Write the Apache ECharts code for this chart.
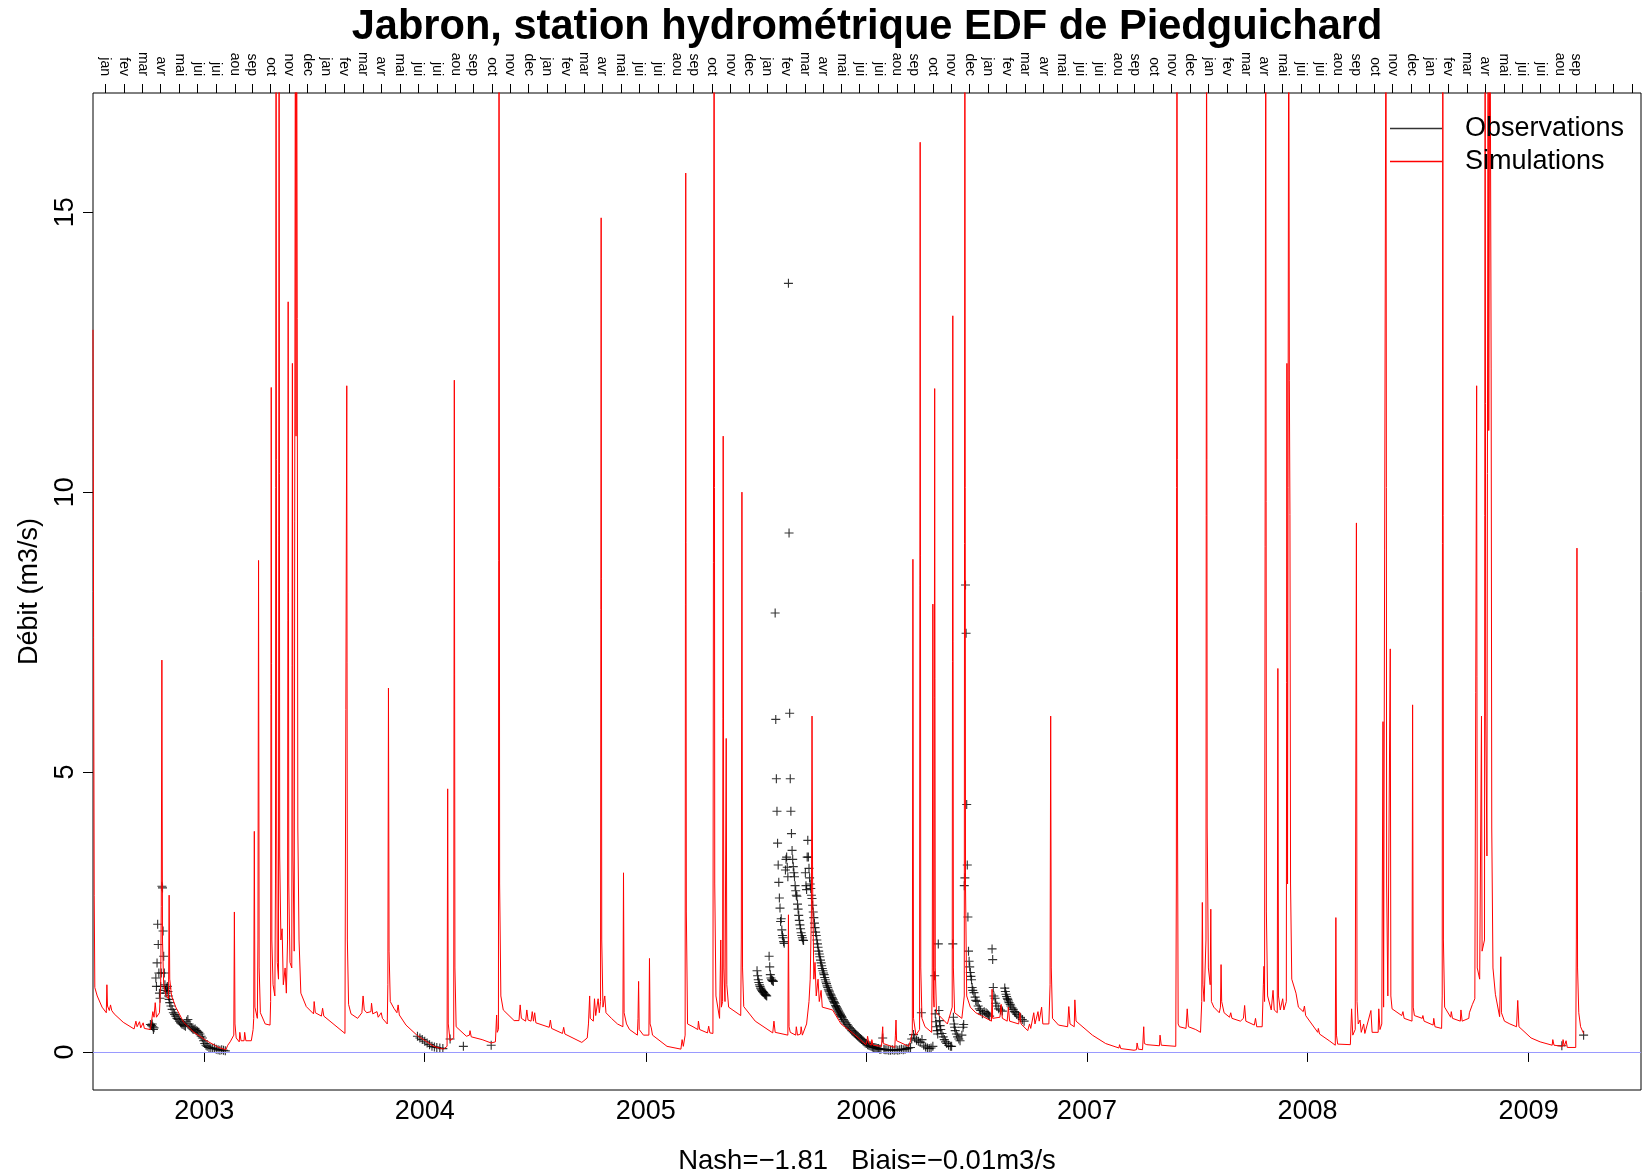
<!DOCTYPE html>
<html>
<head>
<meta charset="utf-8">
<title>Jabron - Piedguichard</title>
<script src="https://cdn.jsdelivr.net/npm/echarts@6/dist/echarts.min.js"></script>
<style>
  html, body { margin: 0; padding: 0; background: #ffffff; }
  #chart { width: 1643px; height: 1175px; }
</style>
</head>
<body>
<div id="chart"></div>
<script>
// ---- Simulated daily discharge (m3/s), key points per year ----
const sim2002 = [
  ['2002-07-01', 12.9], ['2002-07-02', 7.4], ['2002-07-03', 2.8], ['2002-07-04', 1.15], ['2002-07-08', 1.0],
  ['2002-07-16', 0.8], ['2002-07-23', 0.7], ['2002-07-24', 1.2], ['2002-07-25', 0.82], ['2002-07-28', 0.74],
  ['2002-07-30', 0.84], ['2002-08-01', 0.74], ['2002-08-05', 0.68], ['2002-08-20', 0.53], ['2002-09-07', 0.41],
  ['2002-09-10', 0.55], ['2002-09-12', 0.45], ['2002-09-15', 0.43], ['2002-09-16', 0.54], ['2002-09-18', 0.43],
  ['2002-09-21', 0.42], ['2002-09-22', 0.52], ['2002-09-24', 0.42], ['2002-10-04', 0.4], ['2002-10-06', 0.55],
  ['2002-10-08', 0.72], ['2002-10-10', 0.62], ['2002-10-12', 0.88], ['2002-10-14', 0.62], ['2002-10-19', 0.7],
  ['2002-10-21', 1.2], ['2002-10-22', 2.6], ['2002-10-23', 7.0], ['2002-10-24', 2.0], ['2002-10-26', 1.2],
  ['2002-10-30', 1.0], ['2002-11-03', 0.95], ['2002-11-04', 2.8], ['2002-11-05', 1.3], ['2002-11-08', 1.0],
  ['2002-11-15', 0.8], ['2002-11-28', 0.53], ['2002-12-15', 0.35]
];
const sim2003 = [
  ['2003-01-05', 0.2], ['2003-01-25', 0.08], ['2003-02-06', 0.04], ['2003-02-09', 0.12], ['2003-02-13', 0.18],
  ['2003-02-16', 0.16], ['2003-02-19', 0.3], ['2003-02-20', 2.5], ['2003-02-21', 0.5], ['2003-02-23', 0.25],
  ['2003-02-28', 0.18], ['2003-03-01', 0.35], ['2003-03-03', 0.2], ['2003-03-08', 0.2], ['2003-03-09', 0.35],
  ['2003-03-11', 0.2], ['2003-03-20', 0.2], ['2003-03-23', 0.4], ['2003-03-24', 0.6], ['2003-03-25', 3.94],
  ['2003-03-26', 0.8], ['2003-03-30', 0.6], ['2003-03-31', 2.0], ['2003-04-01', 8.78], ['2003-04-02', 1.5],
  ['2003-04-04', 0.7], ['2003-04-12', 0.5], ['2003-04-20', 0.48], ['2003-04-21', 0.9], ['2003-04-22', 11.87],
  ['2003-04-23', 2.0], ['2003-04-25', 1.2], ['2003-04-28', 1.0], ['2003-04-29', 3.0], ['2003-04-30', 20],
  ['2003-05-01', 4.0], ['2003-05-02', 1.6], ['2003-05-04', 1.3], ['2003-05-05', 20], ['2003-05-06', 3.5],
  ['2003-05-08', 2.0], ['2003-05-10', 2.2], ['2003-05-12', 1.2], ['2003-05-15', 1.5], ['2003-05-17', 1.05],
  ['2003-05-19', 2.0], ['2003-05-20', 13.4], ['2003-05-21', 3.0], ['2003-05-23', 1.6], ['2003-05-26', 1.5],
  ['2003-05-27', 12.3], ['2003-05-28', 3.5], ['2003-05-30', 1.8], ['2003-06-01', 20], ['2003-06-02', 11.0],
  ['2003-06-03', 20], ['2003-06-04', 13.1], ['2003-06-05', 4.0], ['2003-06-07', 2.0], ['2003-06-10', 1.05],
  ['2003-06-19', 0.81], ['2003-07-01', 0.68], ['2003-07-02', 0.9], ['2003-07-04', 0.7], ['2003-07-14', 0.64],
  ['2003-07-16', 0.78], ['2003-07-18', 0.64], ['2003-08-22', 0.33], ['2003-08-25', 11.9], ['2003-08-26', 2.0],
  ['2003-08-28', 0.85], ['2003-09-01', 0.68], ['2003-09-12', 0.6], ['2003-09-19', 0.7], ['2003-09-21', 1.0],
  ['2003-09-23', 0.75], ['2003-09-27', 0.7], ['2003-10-04', 0.72], ['2003-10-05', 0.87], ['2003-10-07', 0.68],
  ['2003-10-10', 0.66], ['2003-10-14', 0.72], ['2003-10-16', 0.62], ['2003-10-21', 0.7], ['2003-10-23', 0.6],
  ['2003-10-31', 0.5], ['2003-11-01', 1.2], ['2003-11-02', 6.5], ['2003-11-03', 1.8], ['2003-11-05', 0.9],
  ['2003-11-11', 0.78], ['2003-11-16', 0.7], ['2003-11-18', 0.84], ['2003-11-20', 0.66], ['2003-12-01', 0.48],
  ['2003-12-20', 0.29]
];
const sim2004 = [
  ['2004-01-16', 0.1], ['2004-02-01', 0.05], ['2004-02-07', 0.1], ['2004-02-08', 4.7], ['2004-02-09', 0.5],
  ['2004-02-12', 0.2], ['2004-02-18', 0.25], ['2004-02-19', 12.0], ['2004-02-20', 1.5], ['2004-02-22', 0.45],
  ['2004-03-10', 0.28], ['2004-03-15', 0.3], ['2004-03-16', 0.38], ['2004-03-18', 0.27], ['2004-04-05', 0.22],
  ['2004-04-20', 0.16], ['2004-04-27', 0.18], ['2004-04-29', 0.66], ['2004-04-30', 0.35], ['2004-05-02', 0.4],
  ['2004-05-03', 20], ['2004-05-04', 3.0], ['2004-05-06', 1.0], ['2004-05-10', 0.75], ['2004-05-28', 0.56],
  ['2004-06-05', 0.56], ['2004-06-07', 0.84], ['2004-06-09', 0.6], ['2004-06-16', 0.55], ['2004-06-18', 0.75],
  ['2004-06-20', 0.57], ['2004-06-25', 0.55], ['2004-06-27', 0.72], ['2004-06-29', 0.55], ['2004-07-01', 0.7],
  ['2004-07-03', 0.52], ['2004-07-25', 0.44], ['2004-07-27', 0.57], ['2004-07-29', 0.42], ['2004-08-16', 0.33],
  ['2004-08-18', 0.44], ['2004-08-20', 0.32], ['2004-09-17', 0.17], ['2004-09-26', 0.25], ['2004-09-28', 0.5],
  ['2004-09-30', 1.0], ['2004-10-01', 0.6], ['2004-10-06', 0.55], ['2004-10-08', 0.95], ['2004-10-10', 0.65],
  ['2004-10-14', 0.95], ['2004-10-16', 0.7], ['2004-10-18', 0.9], ['2004-10-19', 14.9], ['2004-10-20', 2.0],
  ['2004-10-22', 0.8], ['2004-10-25', 1.0], ['2004-10-27', 0.7], ['2004-11-05', 0.6], ['2004-11-15', 0.5],
  ['2004-11-24', 0.45], ['2004-11-25', 3.2], ['2004-11-26', 0.7], ['2004-11-30', 0.5], ['2004-12-05', 0.4],
  ['2004-12-18', 0.3], ['2004-12-19', 0.6], ['2004-12-20', 1.26], ['2004-12-21', 0.4], ['2004-12-28', 0.3]
];
const sim2005 = [
  ['2005-01-06', 0.3], ['2005-01-07', 1.67], ['2005-01-08', 0.5], ['2005-01-10', 0.43], ['2005-01-12', 0.3],
  ['2005-02-05', 0.1], ['2005-02-28', 0.05], ['2005-03-02', 0.22], ['2005-03-04', 0.1], ['2005-03-07', 0.3],
  ['2005-03-08', 15.7], ['2005-03-09', 2.5], ['2005-03-11', 0.5], ['2005-03-20', 0.45], ['2005-03-28', 0.4],
  ['2005-03-29', 0.55], ['2005-03-31', 0.4], ['2005-04-13', 0.34], ['2005-04-15', 0.46], ['2005-04-17', 0.34],
  ['2005-04-22', 0.33], ['2005-04-24', 20], ['2005-04-25', 3.0], ['2005-04-27', 1.0], ['2005-05-03', 0.6],
  ['2005-05-05', 2.0], ['2005-05-06', 0.8], ['2005-05-08', 0.9], ['2005-05-09', 11.0], ['2005-05-10', 1.5],
  ['2005-05-12', 0.9], ['2005-05-14', 5.6], ['2005-05-15', 1.2], ['2005-05-18', 0.8], ['2005-06-07', 0.65],
  ['2005-06-08', 2.0], ['2005-06-09', 10.0], ['2005-06-10', 1.5], ['2005-06-12', 0.81], ['2005-07-01', 0.55],
  ['2005-07-30', 0.34], ['2005-08-01', 0.55], ['2005-08-03', 0.35], ['2005-08-24', 0.3], ['2005-08-25', 2.45],
  ['2005-08-26', 0.45], ['2005-08-28', 0.35], ['2005-09-06', 0.3], ['2005-09-07', 0.45], ['2005-09-09', 0.3],
  ['2005-09-14', 0.32], ['2005-09-15', 0.45], ['2005-09-17', 0.3], ['2005-09-24', 0.5], ['2005-09-28', 0.9],
  ['2005-09-30', 1.3], ['2005-10-02', 2.5], ['2005-10-03', 6.0], ['2005-10-04', 3.0], ['2005-10-06', 1.3],
  ['2005-10-08', 1.6], ['2005-10-10', 1.0], ['2005-10-13', 1.3], ['2005-10-15', 0.9], ['2005-10-18', 1.1],
  ['2005-10-20', 0.8], ['2005-11-06', 0.75], ['2005-11-20', 0.5], ['2005-12-09', 0.34], ['2005-12-31', 0.13]
];
const sim2006 = [
  ['2006-01-02', 0.2], ['2006-01-03', 0.28], ['2006-01-05', 0.15], ['2006-01-09', 0.12], ['2006-01-10', 0.22],
  ['2006-01-12', 0.12], ['2006-01-26', 0.1], ['2006-01-27', 0.3], ['2006-01-28', 0.45], ['2006-01-29', 0.15],
  ['2006-02-17', 0.08], ['2006-02-18', 0.3], ['2006-02-19', 0.57], ['2006-02-20', 0.2], ['2006-03-12', 0.1],
  ['2006-03-15', 0.2], ['2006-03-18', 0.35], ['2006-03-19', 8.8], ['2006-03-20', 0.6], ['2006-03-24', 0.3],
  ['2006-03-30', 0.4], ['2006-03-31', 16.25], ['2006-04-01', 1.5], ['2006-04-03', 0.6], ['2006-04-08', 0.45],
  ['2006-04-19', 0.35], ['2006-04-20', 1.5], ['2006-04-21', 8.0], ['2006-04-22', 1.0], ['2006-04-23', 0.8],
  ['2006-04-24', 11.85], ['2006-04-25', 1.5], ['2006-04-27', 0.7], ['2006-05-15', 0.5], ['2006-05-23', 0.8],
  ['2006-05-24', 13.15], ['2006-05-25', 1.5], ['2006-05-27', 0.7], ['2006-06-08', 0.6], ['2006-06-12', 1.0],
  ['2006-06-13', 20], ['2006-06-14', 3.0], ['2006-06-16', 1.0], ['2006-06-22', 0.8], ['2006-07-01', 0.7],
  ['2006-07-10', 0.65], ['2006-07-27', 0.55], ['2006-07-28', 1.12], ['2006-07-29', 0.6], ['2006-08-10', 0.62],
  ['2006-08-12', 0.85], ['2006-08-14', 0.6], ['2006-08-22', 0.55], ['2006-08-24', 0.8], ['2006-08-26', 0.55],
  ['2006-09-10', 0.5], ['2006-09-12', 0.7], ['2006-09-14', 0.5], ['2006-09-25', 0.38], ['2006-09-28', 0.5],
  ['2006-09-30', 0.42], ['2006-10-05', 0.7], ['2006-10-07', 0.5], ['2006-10-12', 0.72], ['2006-10-14', 0.55],
  ['2006-10-18', 0.8], ['2006-10-20', 0.5], ['2006-10-30', 0.5], ['2006-11-01', 1.2], ['2006-11-02', 6.0],
  ['2006-11-03', 1.5], ['2006-11-05', 0.6], ['2006-11-15', 0.48], ['2006-11-30', 0.45], ['2006-12-02', 0.81],
  ['2006-12-04', 0.5], ['2006-12-11', 0.45], ['2006-12-12', 0.93], ['2006-12-14', 0.55]
];
const sim2007 = [
  ['2007-01-10', 0.3], ['2007-02-01', 0.15], ['2007-02-23', 0.07], ['2007-02-24', 0.13], ['2007-02-26', 0.06],
  ['2007-03-20', 0.03], ['2007-03-24', 0.04], ['2007-03-25', 0.16], ['2007-03-27', 0.05], ['2007-04-03', 0.04],
  ['2007-04-05', 0.45], ['2007-04-06', 0.15], ['2007-04-10', 0.13], ['2007-05-01', 0.11], ['2007-05-02', 0.3],
  ['2007-05-04', 0.12], ['2007-05-28', 0.1], ['2007-05-29', 3.0], ['2007-05-30', 20], ['2007-05-31', 4.0],
  ['2007-06-01', 0.5], ['2007-06-03', 0.45], ['2007-06-14', 0.42], ['2007-06-16', 0.77], ['2007-06-18', 0.45],
  ['2007-06-30', 0.4], ['2007-07-08', 0.35], ['2007-07-10', 0.9], ['2007-07-11', 2.67], ['2007-07-12', 1.2],
  ['2007-07-14', 0.9], ['2007-07-17', 2.0], ['2007-07-18', 20], ['2007-07-19', 4.0], ['2007-07-21', 1.5],
  ['2007-07-24', 1.2], ['2007-07-25', 2.55], ['2007-07-26', 0.9], ['2007-07-30', 0.8], ['2007-08-08', 0.7],
  ['2007-08-10', 0.8], ['2007-08-11', 1.56], ['2007-08-12', 0.9], ['2007-08-16', 0.7], ['2007-08-25', 0.62],
  ['2007-08-27', 0.7], ['2007-08-29', 0.6], ['2007-09-12', 0.55], ['2007-09-17', 0.6], ['2007-09-19', 0.83],
  ['2007-09-21', 0.55], ['2007-10-05', 0.48], ['2007-10-07', 0.6], ['2007-10-09', 0.45], ['2007-10-18', 0.45],
  ['2007-10-20', 1.2], ['2007-10-21', 1.53], ['2007-10-22', 0.9], ['2007-10-24', 20], ['2007-10-25', 2.5],
  ['2007-10-27', 1.0], ['2007-11-02', 0.75], ['2007-11-05', 1.1], ['2007-11-07', 0.75], ['2007-11-12', 0.7],
  ['2007-11-13', 6.85], ['2007-11-14', 1.0], ['2007-11-17', 0.75], ['2007-11-20', 0.72], ['2007-11-21', 0.95],
  ['2007-11-23', 0.75], ['2007-11-27', 0.9], ['2007-11-28', 12.3], ['2007-11-29', 3.0], ['2007-12-01', 20],
  ['2007-12-02', 12.0], ['2007-12-03', 9.6], ['2007-12-04', 3.0], ['2007-12-06', 1.3], ['2007-12-13', 1.05],
  ['2007-12-17', 0.8], ['2007-12-25', 0.72], ['2007-12-27', 0.82], ['2007-12-29', 0.65]
];
const sim2008 = [
  ['2008-01-18', 0.35], ['2008-01-19', 0.42], ['2008-01-21', 0.32], ['2008-02-06', 0.2], ['2008-02-16', 0.12],
  ['2008-02-17', 2.4], ['2008-02-18', 0.3], ['2008-02-20', 0.14], ['2008-03-12', 0.13], ['2008-03-14', 0.77],
  ['2008-03-16', 0.3], ['2008-03-20', 0.4], ['2008-03-22', 9.45], ['2008-03-23', 0.9], ['2008-03-25', 0.5],
  ['2008-03-28', 0.57], ['2008-03-30', 0.35], ['2008-04-03', 0.5], ['2008-04-05', 0.33], ['2008-04-15', 0.74],
  ['2008-04-17', 0.35], ['2008-04-27', 0.35], ['2008-04-28', 0.77], ['2008-04-30', 0.4], ['2008-05-03', 0.5],
  ['2008-05-05', 5.9], ['2008-05-06', 0.8], ['2008-05-10', 20], ['2008-05-11', 3.0], ['2008-05-13', 1.0],
  ['2008-05-17', 7.2], ['2008-05-18', 1.0], ['2008-05-20', 0.77], ['2008-06-05', 0.65], ['2008-06-07', 0.72],
  ['2008-06-09', 0.6], ['2008-06-22', 0.55], ['2008-06-23', 6.2], ['2008-06-24', 0.8], ['2008-06-26', 0.65],
  ['2008-07-09', 0.6], ['2008-07-10', 0.65], ['2008-07-12', 0.55], ['2008-07-27', 0.48], ['2008-07-28', 0.6],
  ['2008-07-30', 0.45], ['2008-08-10', 0.42], ['2008-08-11', 1.0], ['2008-08-12', 20], ['2008-08-13', 2.0],
  ['2008-08-15', 0.8], ['2008-08-25', 0.62], ['2008-08-26', 0.72], ['2008-08-28', 0.6], ['2008-09-10', 0.55],
  ['2008-09-11', 0.75], ['2008-09-13', 0.55], ['2008-09-24', 0.6], ['2008-09-25', 0.7], ['2008-09-30', 0.85],
  ['2008-10-04', 0.95], ['2008-10-07', 11.9], ['2008-10-08', 1.5], ['2008-10-12', 1.3], ['2008-10-15', 6.0],
  ['2008-10-16', 1.8], ['2008-10-20', 2.0], ['2008-10-21', 20], ['2008-10-22', 6.0], ['2008-10-24', 3.5],
  ['2008-10-26', 20], ['2008-10-27', 11.1], ['2008-10-29', 20], ['2008-10-31', 12.2], ['2008-11-01', 4.0],
  ['2008-11-03', 1.5], ['2008-11-07', 1.03], ['2008-11-14', 0.63], ['2008-11-16', 1.7], ['2008-11-17', 0.7],
  ['2008-11-22', 0.55], ['2008-12-01', 0.5], ['2008-12-12', 0.45], ['2008-12-14', 0.92], ['2008-12-16', 0.45]
];
const sim2009 = [
  ['2009-01-05', 0.25], ['2009-01-20', 0.18], ['2009-02-09', 0.12], ['2009-02-10', 0.22], ['2009-02-12', 0.12],
  ['2009-02-26', 0.1], ['2009-02-27', 0.22], ['2009-03-01', 0.1], ['2009-03-03', 0.1], ['2009-03-04', 0.2],
  ['2009-03-06', 0.08], ['2009-03-20', 0.08], ['2009-03-21', 2.0], ['2009-03-22', 9.0], ['2009-03-23', 1.5],
  ['2009-03-25', 0.7], ['2009-03-28', 0.45], ['2009-04-02', 0.33]
];

// ---- Gauged discharge (m3/s), by measurement campaign ----
const obs2002 = [
  ['2002-10-04', 0.49], ['2002-10-06', 0.47], ['2002-10-07', 0.5], ['2002-10-08', 0.45], ['2002-10-09', 0.4],
  ['2002-10-10', 0.43], ['2002-10-13', 1.32], ['2002-10-14', 1.17], ['2002-10-15', 1.59], ['2002-10-16', 2.28],
  ['2002-10-17', 1.92], ['2002-10-18', 1.41], ['2002-10-19', 1.05], ['2002-10-20', 0.96], ['2002-10-21', 1.17],
  ['2002-10-22', 1.41], ['2002-10-23', 2.96], ['2002-10-24', 2.93], ['2002-10-25', 2.16], ['2002-10-26', 1.71],
  ['2002-10-27', 1.41], ['2002-10-28', 1.2], ['2002-10-29', 1.1], ['2002-10-30', 1.05], ['2002-10-31', 1.14],
  ['2002-11-01', 1.17], ['2002-11-02', 1.08], ['2002-11-03', 1.0], ['2002-11-04', 0.94], ['2002-11-05', 0.88],
  ['2002-11-07', 0.82], ['2002-11-09', 0.76], ['2002-11-11', 0.7], ['2002-11-13', 0.67], ['2002-11-15', 0.64],
  ['2002-11-17', 0.6], ['2002-11-19', 0.58], ['2002-11-21', 0.55], ['2002-11-23', 0.52], ['2002-11-25', 0.5],
  ['2002-11-27', 0.49], ['2002-11-29', 0.47], ['2002-12-01', 0.46], ['2002-12-03', 0.55], ['2002-12-05', 0.58],
  ['2002-12-07', 0.5], ['2002-12-09', 0.45], ['2002-12-11', 0.43], ['2002-12-13', 0.41], ['2002-12-15', 0.4],
  ['2002-12-17', 0.41], ['2002-12-19', 0.38], ['2002-12-21', 0.37], ['2002-12-23', 0.35], ['2002-12-25', 0.32],
  ['2002-12-27', 0.28], ['2002-12-29', 0.25], ['2002-12-31', 0.2], ['2003-01-02', 0.15], ['2003-01-04', 0.12],
  ['2003-01-06', 0.1], ['2003-01-09', 0.08], ['2003-01-12', 0.07], ['2003-01-15', 0.06], ['2003-01-18', 0.07],
  ['2003-01-21', 0.05], ['2003-01-24', 0.04], ['2003-01-27', 0.03], ['2003-01-30', 0.04], ['2003-02-02', 0.03],
  ['2003-02-05', 0.02]
];
const obs2004 = [
  ['2003-12-20', 0.28], ['2003-12-24', 0.25], ['2003-12-28', 0.22], ['2004-01-01', 0.19], ['2004-01-05', 0.16],
  ['2004-01-09', 0.13], ['2004-01-13', 0.1], ['2004-01-17', 0.09], ['2004-01-21', 0.08], ['2004-01-26', 0.07],
  ['2004-01-31', 0.06], ['2004-02-12', 0.23], ['2004-03-05', 0.1], ['2004-04-20', 0.12]
];
const obs2005 = [
  ['2005-07-04', 1.45], ['2005-07-05', 1.36], ['2005-07-06', 1.29], ['2005-07-07', 1.24], ['2005-07-08', 1.2],
  ['2005-07-09', 1.17], ['2005-07-10', 1.14], ['2005-07-11', 1.12], ['2005-07-12', 1.1], ['2005-07-13', 1.08],
  ['2005-07-14', 1.07], ['2005-07-15', 1.06], ['2005-07-16', 1.04], ['2005-07-17', 1.03], ['2005-07-18', 1.02],
  ['2005-07-19', 1.01], ['2005-07-20', 1.0], ['2005-07-24', 1.71], ['2005-07-25', 1.52], ['2005-07-26', 1.38],
  ['2005-07-27', 1.32], ['2005-07-28', 1.29], ['2005-07-29', 1.28], ['2005-07-30', 1.27], ['2005-07-31', 1.26],
  ['2005-08-03', 7.84], ['2005-08-04', 5.94], ['2005-08-05', 4.88], ['2005-08-06', 4.3], ['2005-08-07', 3.73],
  ['2005-08-08', 3.34], ['2005-08-09', 3.03], ['2005-08-10', 2.75], ['2005-08-11', 2.57], ['2005-08-12', 2.33],
  ['2005-08-13', 2.38], ['2005-08-14', 2.18], ['2005-08-15', 2.08], ['2005-08-16', 2.04], ['2005-08-17', 1.97],
  ['2005-08-18', 1.94], ['2005-08-20', 3.25], ['2005-08-21', 3.44], ['2005-08-22', 3.48], ['2005-08-23', 3.3],
  ['2005-08-24', 3.13], ['2005-08-25', 13.73], ['2005-08-26', 9.27], ['2005-08-27', 6.05], ['2005-08-28', 4.88],
  ['2005-08-29', 4.3], ['2005-08-30', 3.9], ['2005-08-31', 3.6], ['2005-09-01', 3.44], ['2005-09-02', 3.31],
  ['2005-09-03', 3.2], ['2005-09-04', 3.13], ['2005-09-05', 2.97], ['2005-09-06', 2.88], ['2005-09-07', 2.8],
  ['2005-09-08', 2.78], ['2005-09-09', 2.64], ['2005-09-10', 2.55], ['2005-09-11', 2.44], ['2005-09-12', 2.35],
  ['2005-09-13', 2.27], ['2005-09-14', 2.2], ['2005-09-15', 2.13], ['2005-09-16', 2.08], ['2005-09-17', 2.04],
  ['2005-09-18', 2.0], ['2005-09-19', 1.99], ['2005-09-22', 3.2], ['2005-09-23', 2.97], ['2005-09-24', 2.9],
  ['2005-09-25', 3.48], ['2005-09-26', 3.78], ['2005-09-27', 3.48], ['2005-09-28', 3.28], ['2005-09-29', 3.11],
  ['2005-09-30', 3.0], ['2005-10-01', 2.92], ['2005-10-02', 2.8], ['2005-10-03', 2.74], ['2005-10-04', 2.62],
  ['2005-10-05', 2.5], ['2005-10-06', 2.4], ['2005-10-07', 2.3], ['2005-10-08', 2.22], ['2005-10-09', 2.14],
  ['2005-10-10', 2.08], ['2005-10-11', 2.0], ['2005-10-12', 1.93], ['2005-10-13', 1.87], ['2005-10-14', 1.8],
  ['2005-10-15', 1.75], ['2005-10-16', 1.7], ['2005-10-17', 1.64], ['2005-10-18', 1.59], ['2005-10-19', 1.54],
  ['2005-10-20', 1.49], ['2005-10-21', 1.45], ['2005-10-22', 1.41], ['2005-10-23', 1.38], ['2005-10-24', 1.33],
  ['2005-10-25', 1.29], ['2005-10-26', 1.25], ['2005-10-27', 1.22], ['2005-10-28', 1.18], ['2005-10-29', 1.15],
  ['2005-10-30', 1.12], ['2005-10-31', 1.09], ['2005-11-01', 1.07], ['2005-11-02', 1.04], ['2005-11-03', 1.02],
  ['2005-11-04', 1.0], ['2005-11-05', 0.97], ['2005-11-06', 0.95], ['2005-11-07', 0.93], ['2005-11-08', 0.9],
  ['2005-11-09', 0.88], ['2005-11-10', 0.86], ['2005-11-11', 0.83], ['2005-11-12', 0.81], ['2005-11-13', 0.79],
  ['2005-11-14', 0.77], ['2005-11-15', 0.75], ['2005-11-16', 0.73], ['2005-11-17', 0.71], ['2005-11-18', 0.69],
  ['2005-11-19', 0.67], ['2005-11-20', 0.65], ['2005-11-21', 0.63], ['2005-11-22', 0.61], ['2005-11-24', 0.58],
  ['2005-11-26', 0.55], ['2005-11-28', 0.52], ['2005-11-30', 0.49], ['2005-12-02', 0.46], ['2005-12-04', 0.43],
  ['2005-12-06', 0.41], ['2005-12-08', 0.38], ['2005-12-10', 0.36], ['2005-12-12', 0.34], ['2005-12-14', 0.32],
  ['2005-12-16', 0.3], ['2005-12-18', 0.28], ['2005-12-20', 0.26], ['2005-12-22', 0.24], ['2005-12-24', 0.22],
  ['2005-12-26', 0.2], ['2005-12-28', 0.18], ['2005-12-30', 0.16], ['2006-01-01', 0.15], ['2006-01-03', 0.13],
  ['2006-01-05', 0.12], ['2006-01-07', 0.11], ['2006-01-09', 0.1], ['2006-01-11', 0.09], ['2006-01-13', 0.08],
  ['2006-01-15', 0.08], ['2006-01-17', 0.07], ['2006-01-19', 0.06], ['2006-01-21', 0.06], ['2006-01-23', 0.05],
  ['2006-01-25', 0.05], ['2006-01-28', 0.25], ['2006-01-30', 0.05], ['2006-02-01', 0.04], ['2006-02-04', 0.04],
  ['2006-02-07', 0.03], ['2006-02-10', 0.03], ['2006-02-13', 0.04], ['2006-02-16', 0.03], ['2006-02-19', 0.04],
  ['2006-02-22', 0.03], ['2006-02-25', 0.04], ['2006-02-28', 0.05], ['2006-03-03', 0.04], ['2006-03-06', 0.05],
  ['2006-03-09', 0.06], ['2006-03-12', 0.07], ['2006-03-15', 0.08], ['2006-03-17', 0.23], ['2006-03-20', 0.31],
  ['2006-03-22', 0.25], ['2006-03-25', 0.21], ['2006-03-28', 0.19], ['2006-03-31', 0.17], ['2006-04-02', 0.7],
  ['2006-04-03', 0.22], ['2006-04-06', 0.12], ['2006-04-09', 0.09], ['2006-04-12', 0.07], ['2006-04-15', 0.06],
  ['2006-04-18', 0.07], ['2006-04-21', 0.1], ['2006-04-24', 1.36], ['2006-04-25', 0.68], ['2006-04-26', 0.54],
  ['2006-04-27', 0.45], ['2006-04-28', 0.38], ['2006-04-29', 0.32], ['2006-04-30', 1.93], ['2006-05-01', 0.74],
  ['2006-05-02', 0.56], ['2006-05-03', 0.47], ['2006-05-04', 0.4], ['2006-05-06', 0.33], ['2006-05-08', 0.27],
  ['2006-05-10', 0.22], ['2006-05-12', 0.18], ['2006-05-14', 0.15], ['2006-05-17', 0.12], ['2006-05-20', 0.1],
  ['2006-05-22', 0.1], ['2006-05-24', 1.93], ['2006-05-25', 0.62], ['2006-05-26', 0.5], ['2006-05-27', 0.44],
  ['2006-05-28', 0.38], ['2006-05-30', 0.32], ['2006-06-01', 0.27], ['2006-06-03', 0.23], ['2006-06-05', 0.2],
  ['2006-06-08', 0.3], ['2006-06-10', 0.44], ['2006-06-11', 0.49], ['2006-06-12', 2.97], ['2006-06-13', 3.11],
  ['2006-06-14', 8.34], ['2006-06-15', 7.48], ['2006-06-16', 4.42], ['2006-06-17', 3.34], ['2006-06-18', 2.41],
  ['2006-06-19', 1.8], ['2006-06-20', 1.62], ['2006-06-21', 1.52], ['2006-06-22', 1.42], ['2006-06-23', 1.35],
  ['2006-06-24', 1.29], ['2006-06-25', 1.15], ['2006-06-26', 1.1], ['2006-06-28', 1.06], ['2006-06-30', 0.98],
  ['2006-07-01', 0.92], ['2006-07-03', 0.9], ['2006-07-05', 0.82], ['2006-07-07', 0.77], ['2006-07-09', 0.74],
  ['2006-07-12', 0.68], ['2006-07-15', 0.72], ['2006-07-18', 0.7], ['2006-07-20', 0.68], ['2006-07-22', 0.66],
  ['2006-07-24', 0.64], ['2006-07-28', 1.84], ['2006-07-29', 1.65], ['2006-07-30', 1.15], ['2006-07-31', 1.0],
  ['2006-08-02', 0.96], ['2006-08-03', 0.87], ['2006-08-05', 0.82], ['2006-08-08', 0.77], ['2006-08-11', 0.75],
  ['2006-08-14', 0.73], ['2006-08-18', 1.14], ['2006-08-19', 1.08], ['2006-08-20', 1.03], ['2006-08-21', 0.99],
  ['2006-08-22', 0.96], ['2006-08-23', 0.94], ['2006-08-24', 0.91], ['2006-08-25', 0.88], ['2006-08-27', 0.85],
  ['2006-08-28', 0.82], ['2006-08-30', 0.79], ['2006-09-01', 0.76], ['2006-09-03', 0.72], ['2006-09-05', 0.7],
  ['2006-09-07', 0.67], ['2006-09-10', 0.64], ['2006-09-13', 0.61], ['2006-09-16', 0.58], ['2006-09-19', 0.55]
];
const obs2009 = [
  ['2009-02-25', 0.11], ['2009-04-02', 0.3]
];

// ---- Axis settings ----
const xStart = '2002-07-01';
const xEnd = '2009-07-06';
const flowMin = -0.68;
const flowMax = 17.13;
const flowTicks = [0, 5, 10, 15];
const yearLabels = ['2003', '2004', '2005', '2006', '2007', '2008', '2009'];
const monthNames = ['jan', 'fev', 'mar', 'avr', 'mai', 'jui', 'jui', 'aou', 'sep', 'oct', 'nov', 'dec'];
const monthTickCount = 84;     // monthly ticks along the top edge
const monthLabelCount = 81;    // how many of them carry a name
const monthTickStart = [2002, 7, 21];

// ---- Helpers ----
function toTime(s) {
  const p = s.split('-');
  return new Date(+p[0], +p[1] - 1, +p[2]).getTime();
}
const toPoints = rows => rows.map(r => [toTime(r[0]), r[1]]);

const simulated = toPoints([].concat(sim2002, sim2003, sim2004, sim2005, sim2006, sim2007, sim2008, sim2009));
const observed = toPoints([].concat(obs2002, obs2004, obs2005, obs2009));

const yearTimes = yearLabels.map(y => toTime(y + '-01-01'));
const yearLabelAt = new Map(yearTimes.map((t, i) => [t, yearLabels[i]]));

const monthTimes = [];
for (let k = 0; k < monthTickCount; k++) {
  monthTimes.push(new Date(monthTickStart[0], monthTickStart[1] - 1 + k, monthTickStart[2]).getTime());
}
const monthLabelAt = new Map(monthTimes.map((t, i) => [t, monthNames[i % 12]]));

function nearestLabel(map, v) {
  if (map.has(v)) return map.get(v);
  let best = '', bestD = Infinity;
  map.forEach((label, t) => { const d = Math.abs(t - v); if (d < bestD) { bestD = d; best = label; } });
  return bestD < 86400000 ? best : '';
}

const FONT = '"Liberation Sans", Arial, Helvetica, sans-serif';
const plusSymbol = 'path://M3.5,0H4.5V3.5H8V4.5H4.5V8H3.5V4.5H0V3.5H3.5Z';
const legendLine = 'path://M0,0H52V1.4H0Z';

const chart = echarts.init(document.getElementById('chart'), null, { renderer: 'canvas' });

chart.setOption({
  animation: false,
  backgroundColor: '#ffffff',
  textStyle: { fontFamily: FONT, color: '#000' },
  title: [
    {
      text: 'Jabron, station hydrométrique EDF de Piedguichard',
      left: 862, top: 2, textAlign: 'center',
      textStyle: { fontFamily: FONT, fontSize: 41.6, fontWeight: 'bold', color: '#000' }
    },
    {
      text: 'Nash=\u22121.81   Biais=\u22120.01m3/s',
      left: 862, top: 1142, textAlign: 'center',
      textStyle: { fontFamily: FONT, fontSize: 27.5, fontWeight: 'normal', color: '#000' }
    }
  ],
  legend: {
    orient: 'vertical',
    left: 1385, top: 107,
    itemWidth: 52, itemHeight: 14, itemGap: 0,
    selectedMode: false,
    data: [
      { name: 'Observations', icon: legendLine },
      { name: 'Simulations', icon: legendLine }
    ],
    textStyle: { fontFamily: FONT, fontSize: 27, color: '#000', lineHeight: 33, padding: [0, 0, 0, 18] }
  },
  grid: {
    left: 93, right: 2, top: 93, bottom: 85,
    show: true, borderColor: '#000', borderWidth: 1, backgroundColor: 'transparent',
    containLabel: false, outerBoundsMode: 'none'
  },
  xAxis: [
    {
      type: 'value', position: 'bottom', scale: true,
      min: toTime(xStart), max: toTime(xEnd),
      splitLine: { show: false }, minorTick: { show: false },
      axisLine: { show: false },
      axisTick: { show: true, customValues: yearTimes, length: 10, lineStyle: { color: '#000', width: 1 } },
      axisLabel: {
        customValues: yearTimes, margin: 8, fontSize: 27, color: '#000', fontFamily: FONT,
        formatter: v => nearestLabel(yearLabelAt, v)
      }
    },
    {
      type: 'value', position: 'top', scale: true,
      min: toTime(xStart), max: toTime(xEnd),
      splitLine: { show: false }, minorTick: { show: false },
      axisLine: { show: false },
      axisTick: { show: true, customValues: monthTimes, length: 9, lineStyle: { color: '#000', width: 1 } },
      axisLabel: {
        customValues: monthTimes.slice(0, monthLabelCount), rotate: 90, margin: 17,
        fontSize: 14, color: '#000', fontFamily: FONT,
        formatter: v => nearestLabel(monthLabelAt, v)
      }
    }
  ],
  yAxis: {
    type: 'value', min: flowMin, max: flowMax,
    splitLine: { show: false },
    axisLine: { show: false },
    axisTick: { show: true, customValues: flowTicks, length: 10, lineStyle: { color: '#000', width: 1 } },
    axisLabel: { customValues: flowTicks, rotate: 90, margin: 14, fontSize: 27, color: '#000', fontFamily: FONT },
    name: 'Débit (m3/s)', nameLocation: 'middle', nameRotate: 90, nameGap: 50,
    nameTextStyle: { fontFamily: FONT, fontSize: 27, color: '#000' }
  },
  series: [
    {
      name: 'Observations', type: 'scatter', xAxisIndex: 0,
      data: observed, symbol: plusSymbol, symbolSize: 9,
      itemStyle: { color: '#000' }, z: 2, silent: true
    },
    {
      name: 'Simulations', type: 'line', xAxisIndex: 0,
      data: simulated, showSymbol: false, symbol: 'none', clip: true,
      lineStyle: { color: '#ff0000', width: 1 }, itemStyle: { color: '#ff0000' }, z: 3, silent: true,
      markLine: {
        silent: true, symbol: ['none', 'none'], label: { show: false },
        lineStyle: { color: '#9a9aff', width: 1, type: 'solid' },
        data: [{ yAxis: 0 }]
      }
    }
  ]
});
</script>
</body>
</html>
